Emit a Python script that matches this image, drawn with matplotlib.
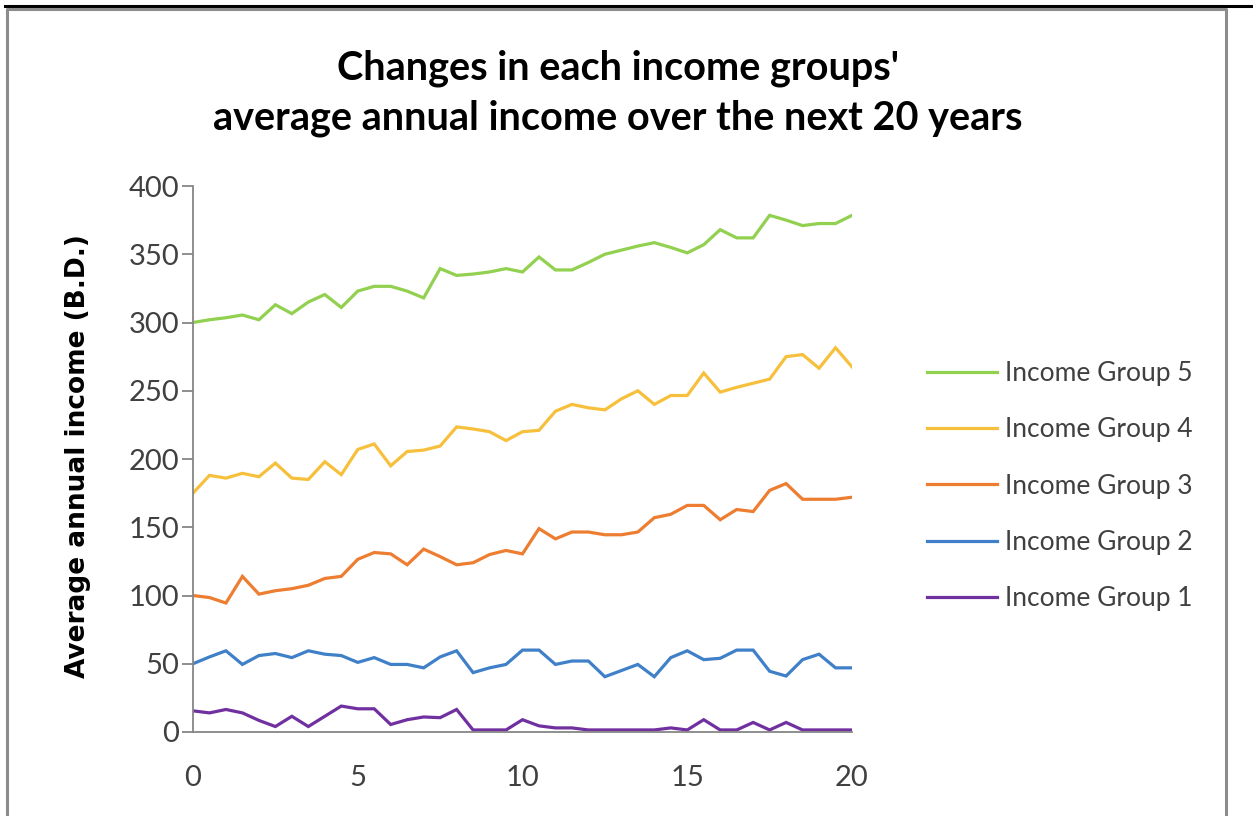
import numpy as np
import matplotlib
matplotlib.use("Agg")
import matplotlib.pyplot as plt
from matplotlib.lines import Line2D

# years, every half year from 0 to 20
years = np.arange(0, 20.5, 0.5)

group5 = [300, 302, 303.5, 305.5, 302, 313, 306.5, 315, 320.5, 311, 323,
          326.5, 326.5, 323, 318, 339.5, 334.5, 335.5, 337, 339.5, 337,
          348, 338.5, 338.5, 344, 350, 353, 356, 358.5, 355, 351, 357,
          368, 362, 362, 378.5, 375, 371, 372.5, 372.5, 378.5]
group4 = [175, 188, 186, 189.5, 187, 197, 186, 185, 198, 188.5, 207,
          211, 195, 205.5, 206.5, 209.5, 223.5, 222, 220, 213.5, 220,
          221, 235, 240, 237.5, 236, 244, 250, 240, 246.5, 246.5, 263,
          249, 252.5, 255.5, 258.5, 275, 276.5, 266.5, 281.5, 267.5]
group3 = [100, 98.5, 94.5, 114, 101, 103.5, 105, 107.5, 112.5, 114, 126.5,
          131.5, 130.5, 122.5, 134, 128.5, 122.5, 124, 130, 133, 130.5,
          149, 141.5, 146.5, 146.5, 144.5, 144.5, 146.5, 157, 159.5, 166,
          166, 155.5, 163, 161.5, 177, 182, 170.5, 170.5, 170.5, 172]
group2 = [50, 55, 59.5, 49.5, 56, 57.5, 54.5, 59.5, 57, 56, 51,
          54.5, 49.5, 49.5, 47, 55, 59.5, 43.5, 47, 49.5, 60,
          60, 49.5, 52, 52, 40.5, 45, 49.5, 40.5, 54.5, 59.5, 53,
          54, 60, 60, 44.5, 41, 53, 57, 47, 47]
group1 = [15.5, 14, 16.5, 14, 8.5, 4, 11.5, 4, 11.5, 19, 17,
          17, 5.5, 9, 11, 10.5, 16.5, 1.5, 1.5, 1.5, 9,
          4.5, 3, 3, 1.5, 1.5, 1.5, 1.5, 1.5, 3, 1.5, 9,
          1.5, 1.5, 7, 1.5, 7, 1.5, 1.5, 1.5, 1.5]

labels = ["Income Group 5", "Income Group 4", "Income Group 3",
          "Income Group 2", "Income Group 1"]
colors = ["#92D050", "#F7C03C", "#ED7D31", "#3F80C8", "#7030A0"]
series = [group5, group4, group3, group2, group1]

fig = plt.figure(figsize=(12.53, 8.16), dpi=100)

# screenshot frame: black top rule and grey chart border
fig.add_artist(Line2D([5 / 1253, 1], [1 - 6 / 816, 1 - 6 / 816],
                      transform=fig.transFigure, color="black", lw=2.2))
fig.add_artist(Line2D([6.5 / 1253, 6.5 / 1253, 1226 / 1253, 1226 / 1253],
                      [0, 1 - 8.5 / 816, 1 - 8.5 / 816, 0],
                      transform=fig.transFigure, color="#8C8C8C", lw=2.2))

ax = fig.add_axes([193 / 1253, 1 - 732 / 816, (852 - 193) / 1253, (732 - 186) / 816])

handles = []
for vals, col, lab in zip(series, colors, labels):
    h, = ax.plot(years, vals, color=col, lw=2.3, label=lab, solid_joinstyle="miter")
    handles.append(h)

ax.set_xlim(0, 20)
ax.set_ylim(0, 400)
ax.set_xticks([0, 5, 10, 15, 20])
ax.set_yticks(range(0, 401, 50))
for s in ["top", "right"]:
    ax.spines[s].set_visible(False)
for s in ["left", "bottom"]:
    ax.spines[s].set_color("#868686")
    ax.spines[s].set_linewidth(1.3)
ax.tick_params(axis="y", length=8, width=1.3, color="#868686", pad=2,
               labelsize=21)
ax.tick_params(axis="x", length=0, pad=24, labelsize=21)
for t in ax.get_xticklabels() + ax.get_yticklabels():
    t.set_fontfamily("Lato")
    t.set_color("#404040")

ax.set_ylabel("Average annual income (B.D.)", fontsize=19, fontweight="bold",
              family="DejaVu Sans")
ax.yaxis.set_label_coords(-0.155, 0.505)

fig.text(0.493, 1 - 93 / 816,
         "Changes in each income groups'\naverage annual income over the next 20 years",
         ha="center", va="center", fontsize=28.5, fontweight="bold",
         family="Lato", linespacing=1.42)

leg = fig.legend(handles=handles, loc="upper left",
                 bbox_to_anchor=(903 / 1253, 1 - 337 / 816),
                 frameon=False, handlelength=2.65,
                 handletextpad=0.3, labelspacing=1.19,
                 prop={"family": "Lato", "size": 19})
for t in leg.get_texts():
    t.set_color("#404040")

fig.savefig("out.png", dpi=100)
